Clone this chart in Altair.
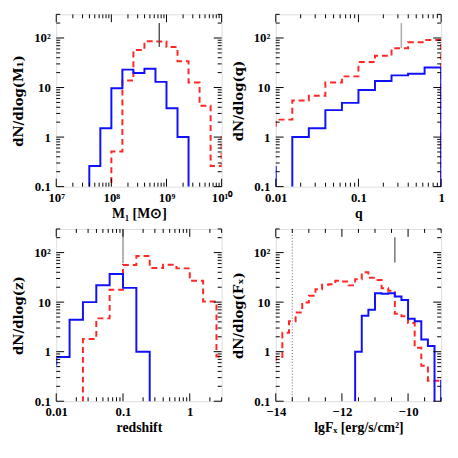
import altair as alt
import pandas as pd

FLOOR = 0.01            # stands in for empty bins on the log axis (clipped away)
Y_DOMAIN = [0.1, 300]

# ---- panel 1: M1 (log10 bin edges) ----
M1_LOG_EDGES = [7.0, 7.2, 7.4, 7.6, 7.8, 8.0, 8.2, 8.4, 8.6, 8.8, 9.0, 9.2, 9.4, 9.6, 9.8, 10.0, 10.2]
M1_BLUE = [0, 0, 0, 0.26, 1.5, 9.7, 23, 19.6, 24, 13, 3.8, 1.0, 0, 0, 0, 0]
M1_RED = [0, 0, 0, 0, 0, 0.51, 13.8, 57, 86, 85, 66, 34, 12.6, 4.3, 0.26, 1.0]
M1_MARK = [7.4e8, 66, 200]

# ---- panel 2: q ----
Q_LOG_EDGES = [-2.2, -2.0, -1.8, -1.6, -1.4, -1.2, -1.0, -0.8, -0.6, -0.4, -0.2, 0.0, 0.2]
Q_BLUE = [0.25, 0, 1.0, 1.5, 3.5, 4.9, 8.9, 13.5, 17.6, 19.0, 25.5, 0]
Q_RED = [1.4, 2.25, 5.5, 6.8, 12.6, 16.8, 32.6, 44, 62, 82, 91, 0]
Q_MARK = [0.33, 63, 200]

# ---- panel 3: redshift ----
Z_LOG_EDGES = [-2.2, -2.0, -1.8, -1.6, -1.4, -1.2, -1.0, -0.8, -0.6, -0.4, -0.2, 0.0, 0.2, 0.4, 0.6]
Z_BLUE = [0.55, 0.78, 4.4, 10, 22, 37, 19.4, 1.0, 0, 0, 0, 0, 0, 0]
Z_RED = [0, 0, 0, 1.8, 4.7, 17.7, 56, 85, 49, 57, 48, 27, 10.3, 0.8]
Z_MARK = [0.1, 61, 300]

# ---- panel 4: lg F_X (linear edges) ----
FX_EDGES = [-14.2, -14.0, -13.8, -13.6, -13.4, -13.2, -13.0, -12.8, -12.6, -12.4, -12.2, -12.0,
            -11.8, -11.6, -11.4, -11.2, -11.0, -10.8, -10.6, -10.4, -10.2, -10.0, -9.8, -9.6,
            -9.4, -9.2, -9.0, -8.8]
FX_RED = [0.55, 0.78, 2.4, 4.1, 6.2, 9.8, 13.4, 18.2, 22.5, 23, 27, 26, 21.8, 29, 40, 31, 28,
          19, 17, 5.8, 5.2, 3.8, 1.2, 0.52, 0.26, 0.26, 0.26]
FX_BLUE = [0, 0, 0, 0, 0, 0, 0, 0, 0, 0, 0, 0, 0, 1.0, 5.3, 7.0, 15.1, 14.7, 15.1, 13.0, 11.1,
           4.6, 4.1, 1.76, 1.3, 0, 0.26]
FX_MARK = [-10.4, 63, 205]
FX_LIMIT = -13.5

# ---- axis ticks ----
Y_MAJOR = [0.1, 1, 10, 100]
Y_MINOR = [0.2, 0.3, 0.4, 0.5, 0.6, 0.7, 0.8, 0.9, 2, 3, 4, 5, 6, 7, 8, 9,
           20, 30, 40, 50, 60, 70, 80, 90, 200, 300]
M1_MAJOR = [1e7, 1e8, 1e9, 1e10]
M1_MINOR = [m * d for d in (1e7, 1e8, 1e9) for m in range(2, 10)]
Q_MAJOR = [0.01, 0.1, 1]
Q_MINOR = [m * d for d in (0.01, 0.1) for m in range(2, 10)]
Z_MAJOR = [0.01, 0.1, 1]
Z_MINOR = [m * d for d in (0.01, 0.1) for m in range(2, 10)] + [2, 3]
FX_MAJOR = [-14, -12, -10]
FX_MINOR = [-13.5, -13, -12.5, -11.5, -11, -10.5, -9.5, -9]

W, H = 168, 175
MAJ, MIN = 8, 4
LAB_FONT = "Liberation Serif"

Y_LABELS = "datum.value > 50 ? '10²' : datum.value > 5 ? '10' : datum.value > 0.5 ? '1' : '0.1'"
M1_LABELS = ("datum.value > 5e9 ? '10¹⁰' : datum.value > 5e8 ? '10⁹' : "
             "datum.value > 5e7 ? '10⁸' : '10⁷'")
DEC_LABELS = "datum.value > 0.5 ? '1' : datum.value > 0.05 ? '0.1' : '0.01'"


def step_frame(edges, values, log_edges):
    xs = [10 ** e if log_edges else e for e in edges]
    rows = [{"x": xs[i], "y": max(values[i], FLOOR)} for i in range(len(values))]
    rows.append({"x": xs[-1], "y": max(values[-1], FLOOR)})
    return pd.DataFrame(rows)


def panel(edges, blue, red, log_edges, xdomain, xmajor, xminor, xlabels, xtitle, ytitle, mark,
          mark_color, vline=None):
    xscale = alt.Scale(type="log" if log_edges else "linear", domain=xdomain, nice=False, zero=False)
    yscale = alt.Scale(type="log", domain=Y_DOMAIN, nice=False)
    xaxis_kw = dict(values=xmajor, title=xtitle, ticks=False, tickSize=0, domain=False, grid=False,
                    labelFont=LAB_FONT, labelFontWeight="bold", labelFontSize=13, labelColor="black",
                    titleFont=LAB_FONT, titleFontWeight="bold", titleFontSize=14, titleColor="black",
                    labelPadding=5, titlePadding=2, labelFlush=False, labelOverlap=False)
    if xlabels:
        xaxis_kw["labelExpr"] = xlabels
    else:
        xaxis_kw["format"] = "d"
    xaxis = alt.Axis(**xaxis_kw)
    yaxis = alt.Axis(values=Y_MAJOR, labelExpr=Y_LABELS, title=ytitle, ticks=False, tickSize=0,
                     domain=False, grid=False, labelFont=LAB_FONT, labelFontWeight="bold",
                     labelFontSize=13, labelColor="black", titleFont="DejaVu Serif",
                     titleFontWeight="bold", titleFontSize=13.5, titleColor="black",
                     labelPadding=6, titlePadding=8, labelFlush=False, labelOverlap=False)

    def X(): return alt.X("x:Q", scale=xscale, axis=xaxis)
    def Y(): return alt.Y("y:Q", scale=yscale, axis=yaxis)

    red_df = step_frame(edges, red, log_edges)
    blue_df = step_frame(edges, blue, log_edges)

    red_line = alt.Chart(red_df).mark_line(
        interpolate="step-after", clip=True, color="#ff2626", strokeWidth=2, strokeDash=[6, 4]
    ).encode(x=X(), y=Y())
    blue_line = alt.Chart(blue_df).mark_line(
        interpolate="step-after", clip=True, color="#1010ff", strokeWidth=2
    ).encode(x=X(), y=Y())

    mark_df = pd.DataFrame([{"x": mark[0], "y": mark[1], "y2": mark[2]}])
    marker = alt.Chart(mark_df).mark_rule(color=mark_color, strokeWidth=1.5).encode(
        x=X(), y=Y(), y2="y2:Q")

    layers = [red_line, blue_line, marker]

    if vline is not None:
        vdf = pd.DataFrame([{"x": vline, "y": Y_DOMAIN[0], "y2": Y_DOMAIN[1]}])
        layers.append(alt.Chart(vdf).mark_rule(color="#666666", strokeWidth=1, strokeDash=[1, 2]).encode(
            x=X(), y=Y(), y2="y2:Q"))

    # inward ticks on all four sides
    for vals, ln in ((xmajor, MAJ), (xminor, MIN)):
        tdf = pd.DataFrame({"x": vals})
        base = alt.Chart(tdf).mark_rule(color="black", strokeWidth=1)
        layers.append(base.encode(x=X(), y=alt.value(H), y2=alt.value(H - ln)))
        layers.append(base.encode(x=X(), y=alt.value(0), y2=alt.value(ln)))
    for vals, ln in ((Y_MAJOR, MAJ), (Y_MINOR, MIN)):
        tdf = pd.DataFrame({"y": vals})
        base = alt.Chart(tdf).mark_rule(color="black", strokeWidth=1)
        layers.append(base.encode(y=Y(), x=alt.value(0), x2=alt.value(ln)))
        layers.append(base.encode(y=Y(), x=alt.value(W), x2=alt.value(W - ln)))

    return alt.layer(*layers).properties(width=W, height=H)


p1 = panel(M1_LOG_EDGES, M1_BLUE, M1_RED, True, [1e7, 1e10], M1_MAJOR, M1_MINOR, M1_LABELS,
           "M₁ [M⊙]", "dN/dlog(M₁)", M1_MARK, "#555555")
p2 = panel(Q_LOG_EDGES, Q_BLUE, Q_RED, True, [0.01, 1], Q_MAJOR, Q_MINOR, DEC_LABELS,
           "q", "dN/dlog(q)", Q_MARK, "#aaaaaa")
p3 = panel(Z_LOG_EDGES, Z_BLUE, Z_RED, True, [0.01, 3], Z_MAJOR, Z_MINOR, DEC_LABELS,
           "redshift", "dN/dlog(z)", Z_MARK, "#999999")
p4 = panel(FX_EDGES, FX_BLUE, FX_RED, False, [-14, -9], FX_MAJOR, FX_MINOR, None,
           "lgFₓ [erg/s/cm²]", "dN/dlog(Fₓ)", FX_MARK, "#777777", vline=FX_LIMIT)

chart = alt.concat(p1, p2, p3, p4, columns=2, spacing={"row": 43, "column": 55},
                   bounds="flush").properties(
    padding={"left": 3, "top": 2, "right": 5, "bottom": 5}
).configure_view(stroke="black", strokeWidth=2).configure(background="white")

chart.save("out.html", embed_options={"renderer": "svg", "actions": False})
